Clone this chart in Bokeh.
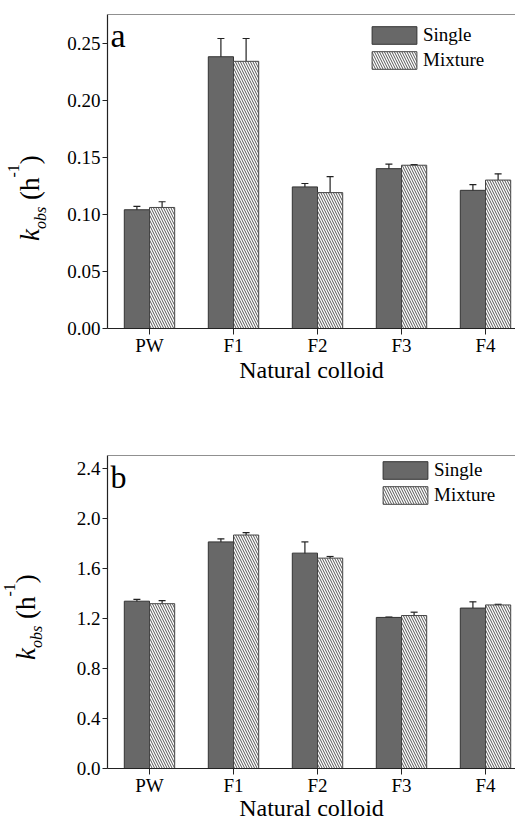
from bokeh.plotting import figure
from bokeh.models import (ColumnDataSource, Range1d, FixedTicker, PrintfTickFormatter,
                          Whisker, TeeHead, Legend, LegendItem, Label, Span, Div)
from bokeh.layouts import column, row
from bokeh.transform import dodge
from bokeh.embed import file_html
from bokeh.resources import INLINE

categories = ["PW", "F1", "F2", "F3", "F4"]
series_names = ["Single", "Mixture"]

a_single = [0.104, 0.238, 0.124, 0.140, 0.121]
a_single_err = [0.003, 0.016, 0.003, 0.004, 0.005]
a_mixture = [0.106, 0.234, 0.119, 0.143, 0.130]
a_mixture_err = [0.005, 0.020, 0.014, 0.0005, 0.0055]

b_single = [1.34, 1.815, 1.725, 1.21, 1.285]
b_single_err = [0.015, 0.025, 0.09, 0.003, 0.05]
b_mixture = [1.32, 1.87, 1.685, 1.225, 1.31]
b_mixture_err = [0.025, 0.02, 0.013, 0.027, 0.005]

a_ticks = [0.0, 0.05, 0.10, 0.15, 0.20, 0.25]
b_ticks = [0.0, 0.4, 0.8, 1.2, 1.6, 2.0, 2.4]

x_title = "Natural colloid"
y_main, y_sub, y_unit, y_sup = "k", "obs", "h", "-1"

FONT = "Liberation Serif"
DARK = "#222222"
LAB_W = 55  # width of the strip that carries the y-axis title


def title_strip(height, left, start_y):
    """HTML strip with the rotated y title k_obs (h^-1), reading bottom to top."""
    html = (
        f'<div style="position:relative;width:{LAB_W}px;height:{height}px;overflow:hidden;">'
        f'<div style="position:absolute;left:{left}px;top:{start_y}px;'
        f"transform-origin:0 0;transform:rotate(-90deg);white-space:nowrap;"
        f"font-family:'{FONT}';font-size:27px;line-height:27px;color:black;\">"
        f'<i>{y_main}</i>'
        f'<i style="font-size:16px;line-height:16px;position:relative;top:7px;">{y_sub}</i>'
        f' ({y_unit}'
        f'<span style="font-size:16px;line-height:16px;position:relative;top:-20px;">{y_sup}</span>)'
        f'</div></div>'
    )
    return Div(text=html, width=LAB_W, height=height, margin=(0, 0, 0, 0))


def make_panel(single, serr, mix, merr, ymax, ticks, fmt, letter, letter_size,
               letter_y, height, b_top, b_bottom, legend_loc, title_standoff):
    xs = list(range(len(categories)))
    src = ColumnDataSource(dict(
        x=xs, single=single, mixture=mix,
        s_up=[v + e for v, e in zip(single, serr)],
        s_lo=[v - e for v, e in zip(single, serr)],
        m_up=[v + e for v, e in zip(mix, merr)],
        m_lo=[v - e for v, e in zip(mix, merr)],
    ))
    p = figure(width=515 - LAB_W, height=height, x_range=Range1d(-0.5, 4.357),
               y_range=Range1d(0, ymax), output_backend="svg",
               toolbar_location=None, min_border_left=107 - LAB_W,
               min_border_right=0, min_border_top=b_top, min_border_bottom=b_bottom)
    p.outline_line_color = None
    p.grid.visible = False
    p.background_fill_color = "white"

    r1 = p.vbar(x=dodge("x", -0.15), top="single", width=0.3, source=src,
                fill_color="#686868", line_color="#333333", line_width=1)
    r2 = p.vbar(x=dodge("x", 0.15), top="mixture", width=0.3, source=src,
                fill_color="white", hatch_pattern="\\", hatch_color="#555555",
                hatch_scale=5, hatch_weight=1, line_color="#444444", line_width=1)

    for off, up, lo in ((-0.15, "s_up", "s_lo"), (0.15, "m_up", "m_lo")):
        w = Whisker(source=src, base=dodge("x", off), upper=up, lower=lo,
                    line_color=DARK, line_width=1.2,
                    upper_head=TeeHead(size=7, line_color=DARK, line_width=1.2),
                    lower_head=TeeHead(size=7, line_color=DARK, line_width=1.2))
        p.add_layout(w)

    p.add_layout(Span(location=ymax, dimension="width", line_color=DARK, line_width=1.2))

    xa = p.xaxis[0]
    xa.ticker = FixedTicker(ticks=xs)
    xa.major_label_overrides = {i: c for i, c in enumerate(categories)}
    xa.minor_tick_line_color = None
    xa.major_tick_out = 6
    xa.major_tick_in = 0
    xa.major_label_standoff = 0
    xa.axis_line_width = 1.2
    xa.axis_line_color = DARK
    xa.major_tick_line_color = DARK
    xa.major_label_text_font = FONT
    xa.major_label_text_font_size = "19px"
    xa.major_label_text_color = "black"
    xa.axis_label = x_title
    xa.axis_label_text_font = FONT
    xa.axis_label_text_font_size = "24px"
    xa.axis_label_text_font_style = "normal"
    xa.axis_label_text_color = "black"
    xa.axis_label_standoff = title_standoff

    ya = p.yaxis[0]
    ya.ticker = FixedTicker(ticks=ticks)
    ya.formatter = PrintfTickFormatter(format=fmt)
    ya.minor_tick_line_color = None
    ya.major_tick_out = 5
    ya.major_tick_in = 0
    ya.major_label_standoff = 2
    ya.axis_line_width = 1.2
    ya.axis_line_color = DARK
    ya.major_tick_line_color = DARK
    ya.major_label_text_font = FONT
    ya.major_label_text_font_size = "19px"
    ya.major_label_text_color = "black"

    legend = Legend(items=[LegendItem(label=series_names[0], renderers=[r1]),
                           LegendItem(label=series_names[1], renderers=[r2])],
                    location=legend_loc, padding=0, margin=0, spacing=3,
                    glyph_width=56, glyph_height=22, label_height=22,
                    label_standoff=1, border_line_color=None,
                    background_fill_alpha=0,
                    label_text_font=FONT, label_text_font_size="19px",
                    label_text_color="black")
    p.add_layout(legend)

    p.add_layout(Label(x=3, y=letter_y, x_units="screen", y_units="screen",
                       text=letter, text_font=FONT, text_font_size=letter_size,
                       text_color="black", text_baseline="middle"))
    return p


HA, HB = 428, 395
pa = make_panel(a_single, a_single_err, a_mixture, a_mixture_err, 0.275, a_ticks,
                "%.2f", "a", "34px", 293, HA, 14, 100, (259, 257), -2)
pb = make_panel(b_single, b_single_err, b_mixture, b_mixture_err, 2.507, b_ticks,
                "%.1f", "b", "32px", 292, HB, 27, 55, (270, 262), -4)
la = title_strip(HA, 17, 241)
lb = title_strip(HB, 13, 232)

layout = column(row(la, pa, spacing=0), row(lb, pb, spacing=0), spacing=0)
open("out.html", "w").write(file_html(layout, INLINE))
